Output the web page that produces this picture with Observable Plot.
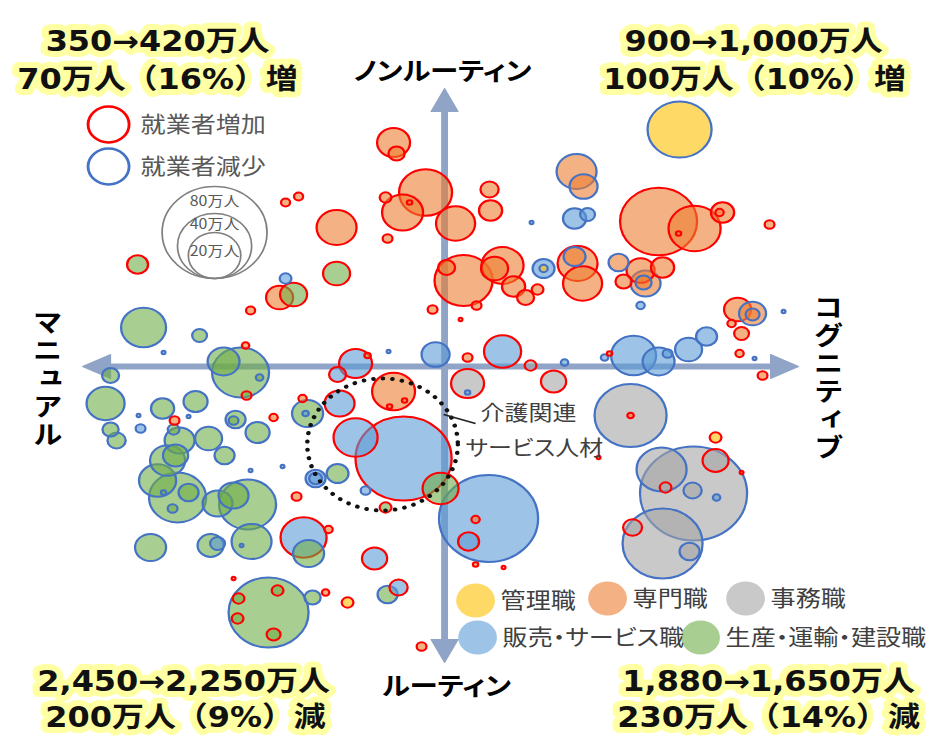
<!DOCTYPE html>
<html lang="ja"><head><meta charset="utf-8">
<script src="https://cdn.jsdelivr.net/npm/d3@7"></script>
<script src="https://cdn.jsdelivr.net/npm/@observablehq/plot@0.6"></script>
<style>
html,body{margin:0;padding:0;background:#fff;overflow:hidden;}
#chart{width:941px;height:737px;overflow:hidden;position:relative;}
#chart svg{display:block;transform-origin:0 0;}
svg text{paint-order:stroke;}
g[font-variant="proportional-width"], g[font-variant="proportional-width"] text{font-feature-settings:"palt" 1;}
g[font-variant="normal"] text{writing-mode:vertical-rl;text-orientation:upright;letter-spacing:2px;}
</style></head>
<body><div id="chart"></div>
<script>
// ---------- DATA ----------
// each row: [コグニティブ度 (x), ノンルーティン度 (y), 就業者数(万人), 増減]
const kanri = [ // 管理職
  [47.0, 47.4, 29.8, "減"], [19.8, 19.6, 0.5, "減"], [54.2, -14.2, 1.0, "増"], [-19.4, -47.2, 1.0, "増"]
];
const senmon = [ // 専門職
  [-10.2, 44.8, 7.9, "増"], [-9.6, 42.6, 1.9, "増"], [-3.8, 34.8, 20.4, "増"], [-8.4, 30.8, 12.2, "増"],
  [-7.0, 32.8, 0.2, "増"], [-11.8, 33.8, 1.0, "増"], [2.2, 28.6, 11.1, "増"], [-11.4, 25.6, 0.7, "増"],
  [-21.6, 27.8, 11.6, "増"], [-29.2, 34.0, 0.6, "増"], [-31.8, 32.8, 0.6, "増"], [-33.0, 13.8, 5.3, "増"],
  [-38.8, 11.2, 0.6, "増"], [-2.4, 11.4, 0.7, "増"], [3.8, 17.2, 24.5, "増"], [0.4, 19.8, 2.1, "増"],
  [9.0, 35.4, 2.4, "増"], [9.2, 31.2, 3.9, "増"], [26.4, 39.0, 11.6, "減"], [27.8, 36.0, 5.7, "減"],
  [11.6, 20.2, 12.8, "増"], [10.0, 19.6, 5.3, "増"], [13.8, 16.0, 3.9, "増"], [16.2, 13.8, 2.1, "増"],
  [18.6, 15.4, 1.0, "増"], [6.4, 12.2, 0.7, "増"], [26.6, 20.6, 11.6, "増"], [26.0, 22.0, 3.5, "減"],
  [27.6, 16.6, 11.1, "増"], [34.8, 20.8, 2.9, "減"], [35.8, 17.0, 1.9, "増"], [39.2, 19.2, 5.7, "増"],
  [40.2, 16.6, 6.5, "減"], [39.8, 16.8, 1.9, "減"], [43.6, 19.8, 3.9, "増"], [42.8, 29.0, 43.1, "増"],
  [50.0, 27.6, 19.7, "増"], [46.8, 26.6, 0.2, "増"], [55.6, 30.8, 3.9, "増"], [55.0, 30.8, 0.5, "増"],
  [65.0, 28.4, 0.7, "増"], [58.6, 11.4, 5.3, "増"], [61.6, 10.6, 5.3, "減"], [61.6, 10.4, 1.4, "減"],
  [57.4, 8.6, 0.5, "増"], [59.4, 6.6, 1.6, "増"], [4.6, 1.8, 0.7, "増"], [33.0, 2.6, 0.2, "増"],
  [59.0, 2.6, 0.5, "増"], [63.6, -1.8, 0.7, "増"], [37.2, -9.8, 0.3, "増"], [-10.2, -5.0, 13.4, "増"],
  [-11.0, -8.0, 0.2, "増"], [-8.0, -6.8, 0.2, "増"], [-15.4, 2.2, 0.3, "増"], [-28.4, -6.4, 0.5, "増"],
  [-34.2, -10.2, 0.5, "増"], [-29.6, -26.0, 0.7, "増"], [-39.8, 4.2, 0.4, "増"], [-54.0, -10.8, 0.7, "増"],
  [-23.2, -32.6, 0.5, "増"], [-23.8, -45.2, 0.4, "増"], [-4.6, -56.0, 0.7, "増"], [6.2, -30.6, 0.5, "増"],
  [6.2, -39.6, 0.2, "増"], [30.8, -18.2, 0.1, "増"], [59.4, -21.2, 0.1, "増"], [3.2, 9.4, 0.1, "増"]
];
const jimu = [ // 事務職
  [17.2, 0.2, 1.0, "増"], [4.6, -3.4, 7.9, "増"], [21.8, -3.0, 4.6, "増"], [37.2, -9.8, 37.7, "減"],
  [54.2, -18.8, 4.9, "増"], [49.8, -25.4, 83.3, "減"], [43.4, -20.6, 18.2, "減"], [43.6, -35.4, 46.5, "減"],
  [49.6, -24.8, 2.4, "減"], [44.2, -24.2, 1.0, "増"], [37.6, -32.2, 2.6, "増"], [49.0, -37.0, 2.9, "減"],
  [17.4, 28.8, 0.1, "減"], [67.8, 11.0, 0.1, "減"], [62.0, 1.6, 0.1, "減"], [-56.2, 2.8, 0.1, "減"],
  [-11.2, 3.0, 0.1, "減"], [-61.2, -9.8, 0.1, "減"], [-51.2, -10.0, 0.1, "減"], [-38.8, -20.8, 0.1, "減"],
  [-32.4, -20.0, 0.1, "減"], [11.8, -40.2, 0.1, "増"], [-42.2, -42.4, 0.1, "増"]
];
const hanbai = [ // 販売・サービス職
  [26.0, 29.6, 3.9, "減"], [28.6, 30.4, 1.6, "減"], [19.8, 19.6, 3.5, "減"], [39.2, 12.2, 0.5, "減"],
  [-1.8, 2.4, 5.7, "減"], [11.6, 3.0, 10.0, "増"], [24.0, 0.8, 0.4, "減"], [4.6, -5.2, 0.2, "減"],
  [37.8, 2.2, 14.7, "減"], [42.8, 1.0, 7.4, "減"], [44.6, 2.6, 0.7, "減"], [48.8, 3.4, 5.3, "減"],
  [52.4, 6.0, 3.2, "減"], [32.0, 1.8, 0.4, "減"], [54.4, -26.2, 0.4, "減"], [8.8, -30.4, 71.3, "減"],
  [4.8, -35.0, 3.2, "増"], [-8.2, -18.4, 67.0, "増"], [-17.8, -14.2, 14.1, "増"], [-21.0, -7.4, 6.5, "増"],
  [-17.8, 0.6, 7.9, "増"], [-21.4, -1.6, 2.1, "増"], [-27.8, -9.4, 0.3, "減"], [-25.8, -22.4, 2.9, "減"],
  [-25.8, -22.4, 1.2, "減"], [-15.8, -24.8, 0.7, "減"], [-31.8, 17.6, 1.0, "減"], [-60.8, -12.4, 0.7, "減"],
  [-28.2, -34.2, 15.4, "増"], [-14.0, -38.4, 4.6, "増"], [-9.2, -44.2, 2.4, "増"], [-45.4, -35.4, 1.6, "減"]
];
const seisan = [ // 生産・運輸・建設職
  [-21.6, 18.6, 5.3, "増"], [-30.2, 14.4, 5.3, "増"], [-61.4, 20.4, 3.2, "増"], [-60.2, 7.8, 14.7, "減"],
  [-49.0, 6.2, 1.6, "減"], [-40.8, -1.2, 23.6, "減"], [-44.2, 1.0, 7.4, "減"], [-37.0, -2.2, 0.4, "減"],
  [-27.4, -9.4, 7.0, "減"], [-37.4, -13.2, 4.2, "減"], [-21.4, -21.4, 3.5, "減"], [-11.8, -28.2, 1.0, "増"],
  [-0.8, -24.4, 9.4, "増"], [-66.8, -1.8, 2.1, "減"], [-67.8, -7.4, 10.5, "減"], [-56.4, -8.4, 3.9, "減"],
  [-49.8, -7.0, 4.2, "減"], [-39.6, -5.8, 0.7, "増"], [-66.8, -12.6, 1.9, "減"], [-65.6, -14.8, 2.4, "減"],
  [-54.2, -12.6, 1.0, "減"], [-41.8, -10.6, 2.9, "減"], [-42.2, -10.8, 0.7, "減"], [-53.0, -14.8, 6.5, "減"],
  [-47.2, -14.4, 5.3, "減"], [-44.0, -17.8, 2.9, "減"], [-55.4, -18.8, 8.9, "減"], [-53.8, -17.8, 4.6, "減"],
  [-57.4, -22.8, 10.0, "減"], [-53.4, -26.2, 23.6, "減"], [-51.2, -25.2, 2.9, "減"], [-56.2, -25.2, 0.2, "減"],
  [-54.4, -28.4, 0.7, "減"], [-45.4, -27.4, 6.5, "減"], [-39.4, -27.6, 23.6, "減"], [-42.2, -25.8, 6.5, "減"],
  [-38.6, -35.0, 11.6, "減"], [-40.6, -35.8, 0.1, "減"], [-58.8, -36.2, 7.0, "減"], [-46.8, -35.8, 4.9, "減"],
  [-27.2, -37.4, 7.0, "減"], [-11.4, -45.6, 2.9, "減"], [-35.2, -49.2, 46.5, "減"], [-41.2, -46.4, 1.0, "増"],
  [-33.4, -44.8, 1.0, "増"], [-41.4, -50.4, 1.0, "増"], [-34.2, -53.6, 1.4, "増"], [-26.4, -46.2, 1.9, "減"]
];

const occupations = ["管理職", "専門職", "事務職", "販売・サービス職", "生産・運輸・建設職"];
const occupationRows = [kanri, senmon, jimu, hanbai, seisan];
const trends = ["就業者増加", "就業者減少"];
const sizeLegend = [80, 40, 20];
const sizeLegendLabels = ["80万人", "40万人", "20万人"];
const quadrantTexts = [
  "350→420万人", "70万人（16%）増",
  "900→1,000万人", "100万人（10%）増",
  "2,450→2,250万人", "200万人（9%）減",
  "1,880→1,650万人", "230万人（14%）減"
];
const axisNames = ["ノンルーティン", "ルーティン", "マニュアル", "コグニティブ"];
const noteLines = ["介護関連", "サービス人材"];

// ---------- STYLE / LAYOUT ----------
const SX = 941 / 825;
const occColor = ["#FFC000", "#ED7D31", "#A5A5A5", "#5B9BD5", "#70AD47"];
const colorOf = Object.fromEntries(occupations.map((o, i) => [o, occColor[i]]));
const RED = "#FF0000", BLUE = "#4472C4", AXIS = "#8FA4C6";
const JP = "'Noto Sans CJK JP','Noto Sans',sans-serif";
const HEAD = "'DejaVu Sans','Noto Sans CJK JP',sans-serif";
const PROP = "proportional-width";

const bubbles = occupations.flatMap((occ, i) =>
  occupationRows[i].map(([x, y, n, t]) => ({occ, x, y, n, t})));

const shafts = [{x1: -67.4, y1: 0, x2: 65.8, y2: 0}, {x1: 0, y1: 51.6, x2: 0, y2: -55.2}];
const heads = [
  {id: "l", x: -72.4, y: 0}, {id: "l", x: -66.8, y: 2.4}, {id: "l", x: -66.8, y: -2.4},
  {id: "r", x: 70.8, y: 0}, {id: "r", x: 65.2, y: 2.4}, {id: "r", x: 65.2, y: -2.4},
  {id: "t", x: 0, y: 55.6}, {id: "t", x: -2.7, y: 51.0}, {id: "t", x: 2.7, y: 51.0},
  {id: "b", x: 0, y: -59.2}, {id: "b", x: -2.7, y: -54.6}, {id: "b", x: 2.7, y: -54.6}
];
const quadPos = [[-57.4, 64.8], [-57.4, 57.2], [61.8, 64.8], [62.0, 57.2],
                 [-52.2, -63.2], [-51.8, -70.4], [64.8, -63.2], [64.8, -70.4]];
const headlines = quadrantTexts.map((text, i) => ({text, x: quadPos[i][0], y: quadPos[i][1]}));

const hAxisLabels = [{text: axisNames[0], x: -0.4, y: 58.9}, {text: axisNames[1], x: 0.4, y: -64.0}];
const vAxisLabels = [{text: axisNames[2], x: -79.4, y: -0.8}, {text: axisNames[3], x: 76.8, y: -0.6}];

const trendLegend = [{label: trends[0], c: RED, x: -67.2, y: 48.4}, {label: trends[1], c: BLUE, x: -67.2, y: 40.0}];
const sizeLeg = sizeLegend.map((n, i) => ({n, label: sizeLegendLabels[i], x: -46.0,
  y: [26.8, 24.1, 22.2][i], ly: [33.0, 28.4, 22.9][i]}));
const catPos = [[6.2, -46.8], [32.6, -46.4], [60.2, -46.4], [6.6, -54.2], [51.2, -54.2]];
const catLegend = occupations.map((o, i) => ({o, x: catPos[i][0], y: catPos[i][1]}));
const ring = [{x: -12.4, y: -15.6}];
const leader = [{x1: -0.2, y1: -9.6, x2: 6.2, y2: -11.4}];
const notes = [{text: noteLines[0], x: 7.2, y: -9.4}, {text: noteLines[1], x: 4.2, y: -16.4}];

const chart = Plot.plot({
  width: 825, height: 737, margin: 0,
  x: {domain: [-80, 80], range: [44 / SX, 844 / SX], axis: null},
  y: {domain: [-80, 80], range: [766, -34], axis: null},
  r: {type: "sqrt", domain: [0, 80], range: [0, 46]},
  style: {background: "#fff", overflow: "visible"},
  marks: [
    // axes arrows
    Plot.link(shafts, {x1: "x1", y1: "y1", x2: "x2", y2: "y2", stroke: AXIS, strokeWidth: 6}),
    Plot.line(heads, {x: "x", y: "y", z: "id", curve: "linear-closed", fill: AXIS, stroke: AXIS, strokeWidth: 1}),
    // bubbles
    Plot.dot(bubbles, {x: "x", y: "y", r: "n", fill: d => colorOf[d.occ], fillOpacity: 0.6,
      stroke: d => d.t === "増" ? RED : BLUE, strokeWidth: 2}),
    // dotted ring
    Plot.dot(ring, {x: "x", y: "y", r: 66, fill: "none", stroke: "#111", strokeWidth: 4,
      strokeDasharray: "0.1 8.3", strokeLinecap: "round"}),
    Plot.link(leader, {x1: "x1", y1: "y1", x2: "x2", y2: "y2", stroke: "#222", strokeWidth: 1.6}),
    Plot.text(notes, {x: "x", y: "y", text: "text", textAnchor: "start", fontSize: 21, fontFamily: JP,
      fill: "#404040", fontVariant: PROP}),
    // trend legend
    Plot.dot(trendLegend, {x: "x", y: "y", r: 18, fill: "none", stroke: d => d.c, strokeWidth: 2.5}),
    Plot.text(trendLegend, {x: d => d.x + 6.4, y: "y", text: "label", textAnchor: "start", fontSize: 22,
      fontFamily: JP, fill: "#595959"}),
    // size legend
    Plot.dot(sizeLeg, {x: "x", y: "y", r: "n", fill: "none", stroke: "#7F7F7F", strokeWidth: 1.5}),
    Plot.text(sizeLeg, {x: "x", y: "ly", text: "label", fontSize: 14, fontFamily: JP, fill: "#595959"}),
    // category legend
    Plot.dot(catLegend, {x: "x", y: "y", r: 17, fill: d => colorOf[d.o], fillOpacity: 0.6}),
    Plot.text(catLegend, {x: d => d.x + 5.0, y: "y", text: "o", textAnchor: "start", fontSize: 22,
      fontFamily: JP, fill: "#404040", fontVariant: PROP}),
    // axis labels
    Plot.text(hAxisLabels, {x: "x", y: "y", text: "text", fontSize: 25, fontWeight: "bold", fontFamily: JP,
      fill: "#000", fontVariant: PROP}),
    Plot.text(vAxisLabels, {x: "x", y: "y", text: "text", fontSize: 26, fontWeight: "bold", fontFamily: JP,
      fill: "#000", textAnchor: "middle", fontVariant: "normal"}),
    // quadrant headlines
    Plot.text(headlines, {x: "x", y: "y", text: "text", fontSize: 28, fontWeight: "bold", fontFamily: HEAD,
      fill: "#111", stroke: "#FFFFA3", strokeWidth: 12, strokeLinejoin: "round"})
  ]
});
chart.style.transform = `scale(${SX},1)`;
document.getElementById("chart").append(chart);
</script>
</body></html>
